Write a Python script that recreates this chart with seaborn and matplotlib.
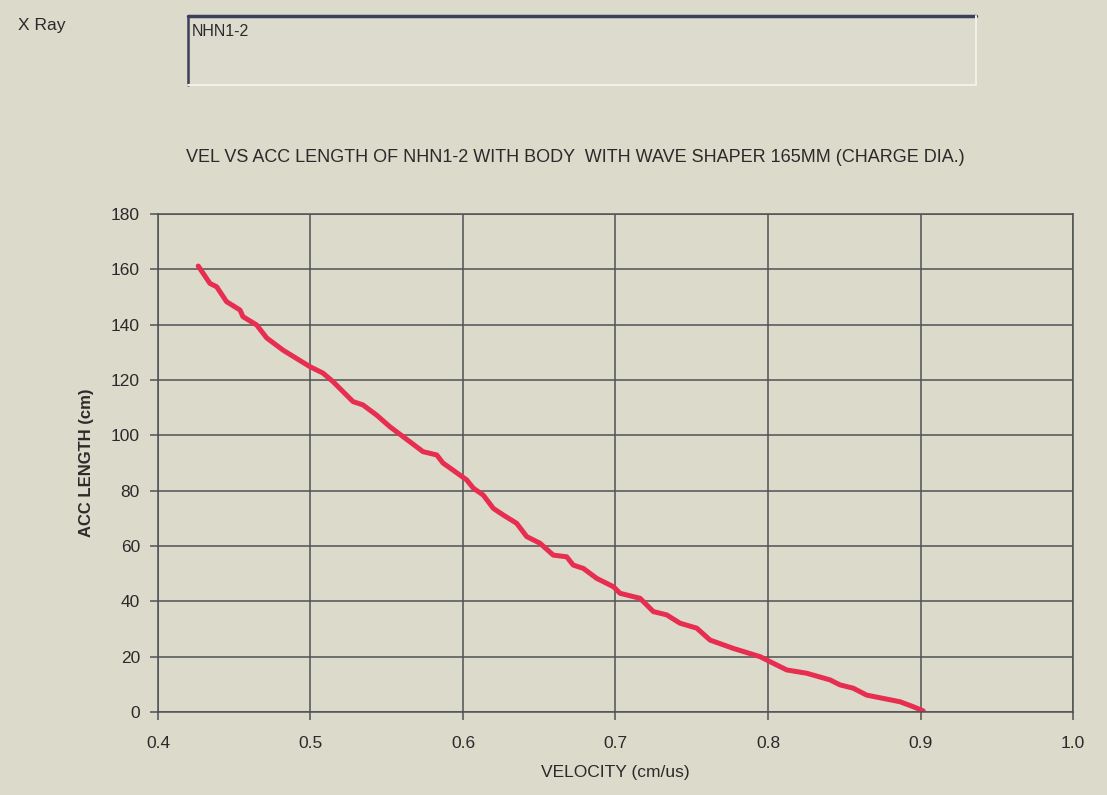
import matplotlib
matplotlib.use("Agg")
import matplotlib.pyplot as plt
import seaborn as sns
import pandas as pd
from matplotlib.patches import Rectangle
from matplotlib.lines import Line2D

velocity = [0.4264, 0.4341, 0.4385, 0.4450, 0.4538, 0.4557, 0.4647, 0.4713, 0.4820,
            0.4997, 0.5082, 0.5148, 0.5279, 0.5344, 0.5434, 0.5521, 0.5738, 0.5828,
            0.5869, 0.6024, 0.6068, 0.6133, 0.6199, 0.6264, 0.6352, 0.6418, 0.6505,
            0.6592, 0.6680, 0.6723, 0.6789, 0.6877, 0.6986, 0.7030, 0.7161, 0.7248,
            0.7336, 0.7423, 0.7533, 0.7620, 0.7772, 0.7948, 0.8013, 0.8123, 0.8254,
            0.8407, 0.8472, 0.8559, 0.8647, 0.8866, 0.8953, 0.9018]
acc_length = [161.2, 154.9, 153.7, 148.3, 145.3, 142.9, 139.9, 135.2, 130.8,
              124.8, 122.5, 119.4, 112.2, 111.0, 107.3, 103.1, 94.1, 92.9,
              90.0, 83.9, 80.9, 78.4, 73.6, 71.2, 68.2, 63.4, 61.0,
              56.7, 56.1, 53.1, 51.9, 48.3, 45.3, 42.9, 41.1, 36.3,
              35.1, 32.1, 30.3, 26.0, 23.0, 20.0, 18.2, 15.2, 14.0,
              11.6, 9.8, 8.6, 6.1, 3.7, 1.9, 0.4]
x_ticks = [0.4, 0.5, 0.6, 0.7, 0.8, 0.9, 1.0]
y_ticks = [0, 20, 40, 60, 80, 100, 120, 140, 160, 180]

BG = "#dbdacb"
GRID = "#4e5254"
TXT = "#2a2a2a"

sns.set_theme(style="whitegrid", rc={
    "figure.facecolor": BG,
    "axes.facecolor": BG,
    "grid.color": GRID,
    "grid.linewidth": 1.1,
    "axes.edgecolor": GRID,
    "xtick.color": GRID,
    "ytick.color": GRID,
    "text.color": TXT,
    "axes.labelcolor": TXT,
})
plt.rcParams['font.family'] = ['Liberation Sans', 'DejaVu Sans']

df = pd.DataFrame({"vel": velocity, "acc": acc_length})

fig = plt.figure(figsize=(11.07, 7.95), dpi=100)
ax = fig.add_axes([0.1427, 0.1044, 0.8266, 0.6264])

sns.lineplot(data=df, x="vel", y="acc", ax=ax, sort=False, color="#e72d50",
             linewidth=3.6, solid_capstyle="round", solid_joinstyle="round")

ax.set_xlim(0.4, 1.0)
ax.set_ylim(0, 180)
ax.set_xticks(x_ticks)
ax.set_yticks(y_ticks)
ax.set_xticklabels([f"{t:.1f}" for t in x_ticks], fontsize=12.5, color=TXT)
ax.set_yticklabels([str(t) for t in y_ticks], fontsize=12.5, color=TXT)
ax.tick_params(axis="y", length=6, width=1.1, direction="out", pad=7)
ax.tick_params(axis="x", length=6, width=1.1, direction="out", pad=11)
ax.xaxis.set_ticks_position("bottom")
ax.yaxis.set_ticks_position("left")
for s in ax.spines.values():
    s.set_color(GRID)
    s.set_linewidth(1.1)

ax.set_xlabel("VELOCITY (cm/us)", fontsize=12.5, labelpad=10)
ax.set_ylabel("ACC LENGTH (cm)", fontsize=12, fontweight="bold", labelpad=12)

fig.text(0.520, 0.802, "VEL VS ACC LENGTH OF NHN1-2 WITH BODY  WITH WAVE SHAPER 165MM (CHARGE DIA.)",
         ha="center", va="center", fontsize=13, color=TXT)

# header: label and sunken text box
fig.text(0.016, 0.968, "X Ray", ha="left", va="center", fontsize=12.5, color=TXT)
x0, x1 = 188 / 1107, 976 / 1107
y0, y1 = 1 - 85 / 795, 1 - 16 / 795
fig.patches.append(Rectangle((x0, y0), x1 - x0, y1 - y0, transform=fig.transFigure,
                             facecolor="#dcdbcd", edgecolor="none"))
fig.lines.append(Line2D([x0, x1], [y1, y1], transform=fig.transFigure, color="#3c3e5a", linewidth=2.5))
fig.lines.append(Line2D([x0, x0], [y0, y1], transform=fig.transFigure, color="#3c3e5a", linewidth=1.8))
fig.lines.append(Line2D([x1, x1], [y0, y1], transform=fig.transFigure, color="#f0f0e8", linewidth=1.5))
fig.lines.append(Line2D([x0, x1], [y0, y0], transform=fig.transFigure, color="#f0f0e8", linewidth=1.5))
fig.text(x0 + 0.003, 1 - 31 / 795, "NHN1-2", ha="left", va="center", fontsize=11.5, color=TXT)

fig.savefig("out.png", dpi=100, facecolor=BG)
